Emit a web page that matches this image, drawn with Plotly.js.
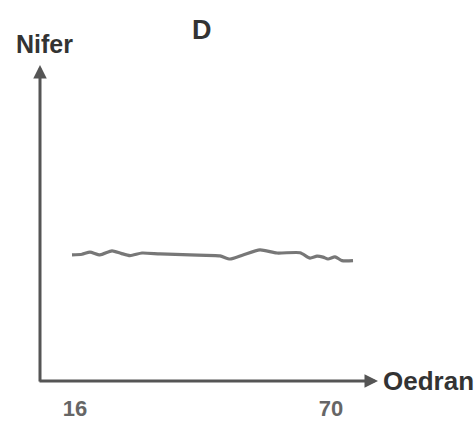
<!DOCTYPE html>
<html><head><meta charset="utf-8">
<script src="https://cdn.plot.ly/plotly-3.0.1.min.js"></script>
<style>html,body{margin:0;padding:0;background:#fff}#c{width:476px;height:423px}</style>
</head><body><div id="c"></div>
<script>
const ages = [15.37, 17.48, 19.16, 21.27, 23.80, 25.70, 27.60, 30.13, 33.93, 40.26, 46.58, 48.69, 51.44, 55.02, 58.61, 63.46, 65.57, 67.04, 68.31, 69.37, 70.84, 72.32, 74.64];
const values = [39.9, 40.1, 40.8, 39.9, 41.2, 40.4, 39.7, 40.5, 40.2, 39.9, 39.6, 38.6, 39.9, 41.5, 40.5, 40.6, 38.9, 39.5, 39.2, 38.6, 39.3, 38.1, 38.1];
const tickVals = [16, 70];
const tickText = ['16', '70'];
const titleText = 'D';
const yLabel = 'Nifer';
const xLabel = 'Oedran';

const axisColor = '#555';
const txtFont = 'Liberation Sans, Arial, sans-serif';
Plotly.newPlot('c', [{
  x: ages, y: values, type: 'scatter', mode: 'lines',
  line: {color: '#777', width: 3.2, shape: 'spline', smoothing: 0.6},
  hoverinfo: 'skip'
}], {
  width: 476, height: 423,
  margin: {l: 40, r: 98, t: 65, b: 42, pad: 0},
  paper_bgcolor: '#fff', plot_bgcolor: '#fff',
  showlegend: false,
  xaxis: {range: [8.62, 79.91], showgrid: false, zeroline: false, showline: false,
    tickvals: tickVals, ticktext: tickText, ticks: '', ticklabelstandoff: 12,
    tickfont: {family: txtFont, size: 22, color: '#666', weight: 'bold'}, fixedrange: true},
  yaxis: {range: [0, 100], showgrid: false, zeroline: false, showline: false,
    showticklabels: false, ticks: '', fixedrange: true},
  annotations: [
    {xref: 'paper', yref: 'paper', x: 0, y: 1, ax: 0, ay: 318, axref: 'pixel', ayref: 'pixel',
     showarrow: true, arrowhead: 2, arrowsize: 0.9, arrowwidth: 3, arrowcolor: axisColor, text: ''},
    {xref: 'paper', yref: 'paper', x: 1, y: 0, ax: -340, ay: 0,
     showarrow: true, arrowhead: 2, arrowsize: 0.9, arrowwidth: 3, arrowcolor: axisColor, text: ''},
    {xref: 'paper', yref: 'paper', x: 1, y: 0, xanchor: 'left', yanchor: 'middle', xshift: 3, yshift: 0,
     showarrow: false, text: '<b>' + xLabel + '</b>', font: {family: txtFont, size: 26, color: '#333'}},
    {xref: 'paper', yref: 'paper', x: 0, y: 1, xanchor: 'center', yanchor: 'middle', yshift: 21, xshift: 4,
     showarrow: false, text: '<b>' + yLabel + '</b>', font: {family: txtFont, size: 25, color: '#333'}}
  ],
  title: {text: '<b>' + titleText + '</b>', x: 0.424, xref: 'container', xanchor: 'center',
    y: 0.931, yref: 'container', yanchor: 'middle', font: {family: txtFont, size: 27, color: '#333'}}
}, {staticPlot: true});
</script></body></html>
